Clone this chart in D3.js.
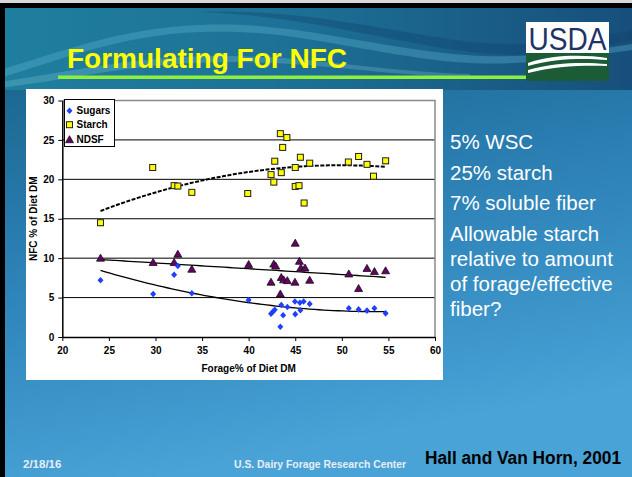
<!DOCTYPE html>
<html><head><meta charset="utf-8">
<script src="https://cdn.jsdelivr.net/npm/d3@7"></script>
<style>
html,body{margin:0;padding:0;background:#fff;}
svg{display:block;}
text{font-family:Arial,"Liberation Sans",Helvetica,sans-serif;}
</style></head>
<body>
<script>
// ---------- data ----------
const xTicks = [20, 25, 30, 35, 40, 45, 50, 55, 60];
const yTicks = [0, 5, 10, 15, 20, 25, 30];
const seriesNames = ["Sugars", "Starch", "NDSF"];

const sugarsX = [24.1, 29.75, 32.0, 32.4, 33.9, 40.0, 43.5, 42.4, 42.6, 42.8, 43.4, 43.7, 44.15, 44.97, 45.5, 45.9, 46.55, 45.0, 45.55, 50.75, 51.8, 52.7, 53.5, 54.7];
const sugarsY = [7.2, 5.45, 7.9, 9.0, 5.55, 4.7, 4.05, 2.95, 3.2, 3.45, 1.3, 2.75, 3.8, 4.5, 4.35, 4.5, 4.2, 2.9, 3.4, 3.65, 3.5, 3.35, 3.65, 3.0];

const starchX = [24.1, 29.7, 32.0, 32.4, 33.9, 39.9, 43.4, 44.1, 43.65, 42.8, 45.55, 46.55, 45.0, 42.4, 43.5, 42.7, 45.0, 45.4, 45.95, 50.7, 51.8, 52.7, 53.4, 54.7];
const starchY = [14.5, 21.5, 19.2, 19.15, 18.35, 18.2, 25.8, 25.3, 24.05, 22.3, 22.8, 22.05, 21.5, 20.6, 20.85, 19.65, 19.1, 19.2, 17.0, 22.2, 22.9, 21.9, 20.4, 22.35];

const ndsfX = [24.1, 29.75, 32.0, 32.4, 33.9, 40.0, 42.7, 42.9, 42.4, 43.4, 43.5, 43.75, 44.15, 44.97, 45.0, 45.45, 45.6, 46.05, 46.55, 50.75, 51.8, 52.7, 53.5, 54.7];
const ndsfY = [10.0, 9.45, 9.45, 10.5, 8.6, 9.2, 9.25, 9.0, 6.95, 5.45, 7.55, 7.25, 7.15, 6.95, 11.9, 9.6, 8.75, 8.75, 7.2, 8.0, 6.15, 8.7, 8.3, 8.4];

const titleText = "Formulating For NFC";
const bullets = [["5% WSC"], ["25% starch"], ["7% soluble fiber"], ["Allowable starch", "relative to amount", "of forage/effective", "fiber?"]];
const xLabel = "Forage% of Diet DM";
const yLabel = "NFC % of Diet DM";
const footDate = "2/18/16";
const footCenter = "U.S. Dairy Forage Research Center";
const citation = "Hall and Van Horn, 2001";

// ---------- helpers: least-squares polynomial trend (like Excel trendlines) ----------
function polyFit(xs, ys, order) {
  const n = order + 1;
  const s = new Array(2 * n - 1).fill(0), t = new Array(n).fill(0);
  xs.forEach((x, i) => {
    for (let k = 0; k < 2 * n - 1; k++) s[k] += Math.pow(x, k);
    for (let k = 0; k < n; k++) t[k] += ys[i] * Math.pow(x, k);
  });
  const A = d3.range(n).map(i => d3.range(n).map(j => s[i + j]).concat([t[i]]));
  for (let i = 0; i < n; i++) for (let j = i + 1; j < n; j++) {
    const f = A[j][i] / A[i][i];
    for (let k = i; k <= n; k++) A[j][k] -= f * A[i][k];
  }
  const c = new Array(n).fill(0);
  for (let i = n - 1; i >= 0; i--) {
    let v = A[i][n];
    for (let k = i + 1; k < n; k++) v -= A[i][k] * c[k];
    c[i] = v / A[i][i];
  }
  return x => c.reduce((acc, ck, k) => acc + ck * Math.pow(x, k), 0);
}

// ---------- svg ----------
const W = 632, H = 477;
const svg = d3.select("body").append("svg").attr("width", W).attr("height", H);
const defs = svg.append("defs");

const bg = defs.append("linearGradient").attr("id", "bg").attr("x1", 0).attr("y1", 0).attr("x2", 0.25).attr("y2", 1);
[[0, "#17557f"], [0.2, "#1d6a93"], [0.5, "#2a7eb2"], [0.8, "#3b93c8"], [1, "#49a3d7"]].forEach(d => bg.append("stop").attr("offset", d[0]).attr("stop-color", d[1]));

const band = defs.append("linearGradient").attr("id", "band").attr("x1", 0).attr("y1", 0).attr("x2", 1).attr("y2", 0);
[[0, "#1f7f9e"], [0.45, "#1d7196"], [1, "#174f7c"]].forEach(d => band.append("stop").attr("offset", d[0]).attr("stop-color", d[1]));

svg.append("rect").attr("width", W).attr("height", H).attr("fill", "url(#bg)");
svg.append("rect").attr("x", 0).attr("y", 8).attr("width", W).attr("height", 82).attr("fill", "url(#band)");

// waves in title band
svg.append("path").attr("d", "M0,78 C60,60 120,35 200,32 C280,29 330,45 420,58 C500,70 560,60 632,50 L632,44 C560,55 500,62 420,50 C330,37 280,22 200,25 C120,28 60,52 0,70 Z")
  .attr("fill", "#5fb8d0").attr("opacity", 0.35);
svg.append("path").attr("d", "M200,12 C300,15 380,40 470,52 C540,60 590,50 632,40 L632,30 C590,40 540,48 470,42 C380,30 300,8 200,12 Z")
  .attr("fill", "#0f3f68").attr("opacity", 0.35);
svg.append("path").attr("d", "M0,82 C80,70 140,55 230,56 C320,57 380,72 470,74 L470,77 C380,76 320,62 230,62 C140,62 80,78 0,88 Z")
  .attr("fill", "#8fd2e0").attr("opacity", 0.25);

// frame
svg.append("rect").attr("x", 0).attr("y", 0).attr("width", W).attr("height", 3).attr("fill", "#d8d8d8");
svg.append("rect").attr("x", 0).attr("y", 3).attr("width", W).attr("height", 5).attr("fill", "#000");
svg.append("rect").attr("x", 0).attr("y", 3).attr("width", 5).attr("height", H).attr("fill", "#000");

// title
svg.append("text").attr("x", 67).attr("y", 68).attr("font-size", 28).attr("font-weight", "bold")
  .attr("fill", "#ffff00").text(titleText);
svg.append("rect").attr("x", 58).attr("y", 75.5).attr("width", 468).attr("height", 3.5).attr("fill", "#8ef03a");

// USDA logo
const logo = svg.append("g");
logo.append("rect").attr("x", 526).attr("y", 22).attr("width", 83).attr("height", 59).attr("fill", "#fff");
logo.append("rect").attr("x", 526).attr("y", 53).attr("width", 83).attr("height", 28).attr("fill", "#1b5b35");
logo.append("text").attr("x", 567.5).attr("y", 50).attr("text-anchor", "middle").attr("font-size", 31)
  .attr("font-family", "'Liberation Serif','DejaVu Serif',serif").attr("fill", "#1f3366")
  .attr("textLength", 78).attr("lengthAdjust", "spacingAndGlyphs").text("USDA");
logo.append("path").attr("d", "M528,63 C555,54 585,55 607,58 L607,60 C585,58 555,58 528,66 Z").attr("fill", "#fff");
logo.append("path").attr("d", "M528,70 C555,62 585,62 607,64 L607,66 C585,65 555,66 528,73 Z").attr("fill", "#fff");

// chart panel
svg.append("rect").attr("x", 26).attr("y", 89).attr("width", 417).attr("height", 291).attr("fill", "#fff");

const x = d3.scaleLinear().domain([20, 60]).range([62.3, 435]);
const y = d3.scaleLinear().domain([0, 30]).range([337, 100.5]);

const g = svg.append("g");
// gridlines
g.selectAll("line.grid").data(yTicks.filter(v => v > 0 && v < 30)).join("line")
  .attr("x1", x(20)).attr("x2", x(60)).attr("y1", d => y(d)).attr("y2", d => y(d))
  .attr("stroke", "#000").attr("stroke-width", 1);
// plot border top / right
g.append("path").attr("d", `M${x(20)},${y(30)} H${x(60)} V${y(0)}`).attr("fill", "none").attr("stroke", "#8a8a8a").attr("stroke-width", 1.5);

const xAxis = d3.axisBottom(x).tickValues(xTicks).tickSize(4).tickSizeOuter(0).tickPadding(6);
const yAxis = d3.axisLeft(y).tickValues(yTicks).tickSize(4).tickSizeOuter(0).tickPadding(4);
const gx = g.append("g").attr("transform", `translate(0,${y(0)})`).call(xAxis);
const gy = g.append("g").attr("transform", `translate(${x(20)},0)`).call(yAxis);
[gx, gy].forEach(a => {
  a.select(".domain").attr("stroke", "#000").attr("stroke-width", 1.5);
  a.selectAll(".tick line").attr("stroke", "#000").attr("stroke-width", 1);
  a.selectAll(".tick text").attr("font-size", 10).attr("font-weight", "bold").attr("fill", "#000")
    .attr("font-family", "Arial,'Liberation Sans',sans-serif");
});

g.append("text").attr("x", (x(20) + x(60)) / 2).attr("y", 372).attr("text-anchor", "middle")
  .attr("font-size", 10).attr("font-weight", "bold").text(xLabel);
g.append("text").attr("transform", `translate(36.5,${(y(0) + y(30)) / 2}) rotate(-90)`).attr("text-anchor", "middle")
  .attr("font-size", 10).attr("font-weight", "bold").text(yLabel);

// trend lines
const line = d3.line().x(d => x(d[0])).y(d => y(d[1]));
function trend(xs, ys, order) {
  const f = polyFit(xs, ys, order);
  const lo = d3.min(xs), hi = d3.max(xs);
  return d3.range(0, 61).map(i => { const xv = lo + (hi - lo) * i / 60; return [xv, f(xv)]; });
}
g.append("path").attr("d", line(trend(starchX, starchY, 2))).attr("fill", "none").attr("stroke", "#000")
  .attr("stroke-width", 2).attr("stroke-dasharray", "4,1.5");
g.append("path").attr("d", line(trend(ndsfX, ndsfY, 1))).attr("fill", "none").attr("stroke", "#000").attr("stroke-width", 1.3);
g.append("path").attr("d", line(trend(sugarsX, sugarsY, 2))).attr("fill", "none").attr("stroke", "#000").attr("stroke-width", 1.3);

// markers
const diamond = "M0,-3.3 L3,0 L0,3.3 L-3,0 Z";
const tri = "M0,-4 L4,3 L-4,3 Z";
function drawSquares(sel, xs, ys) {
  sel.selectAll(null).data(xs).join("rect")
    .attr("x", d => x(d) - 2.5).attr("y", (d, i) => y(ys[i]) - 2.5).attr("width", 6).attr("height", 6)
    .attr("fill", "#9a9a9a").attr("opacity", 0.6);
  sel.selectAll(null).data(xs).join("rect")
    .attr("x", d => x(d) - 3).attr("y", (d, i) => y(ys[i]) - 3).attr("width", 6).attr("height", 6)
    .attr("fill", "#ffff00").attr("stroke", "#222").attr("stroke-width", 1);
}
const ms = g.append("g");
drawSquares(ms.append("g"), starchX, starchY);
ms.append("g").selectAll("path").data(ndsfX).join("path")
  .attr("d", tri).attr("transform", (d, i) => `translate(${x(d)},${y(ndsfY[i])})`)
  .attr("fill", "#660066").attr("stroke", "#111").attr("stroke-width", 0.8);
ms.append("g").selectAll("path").data(sugarsX).join("path")
  .attr("d", diamond).attr("transform", (d, i) => `translate(${x(d)},${y(sugarsY[i])})`)
  .attr("fill", "#1f3fff");

// legend
const lg = g.append("g");
lg.append("rect").attr("x", 64.5).attr("y", 99.5).attr("width", 50).attr("height", 47).attr("fill", "#fff").attr("stroke", "#000").attr("stroke-width", 1);
const ly = [110.7, 124.7, 139.2];
lg.append("path").attr("d", diamond).attr("transform", `translate(69.5,${ly[0]})`).attr("fill", "#1f3fff");
lg.append("rect").attr("x", 66.5).attr("y", ly[1] - 3).attr("width", 6).attr("height", 6).attr("fill", "#ffff00").attr("stroke", "#222");
lg.append("path").attr("d", tri).attr("transform", `translate(69.5,${ly[2] + 0.5})`).attr("fill", "#660066").attr("stroke", "#111").attr("stroke-width", 0.8);
lg.selectAll("text.l").data(seriesNames).join("text").attr("x", 76.5).attr("y", (d, i) => ly[i] + 3.6)
  .attr("font-size", 10).attr("font-weight", "bold").text(d => d);

// right bullets
let by = 149;
const rt = svg.append("g").attr("fill", "#fff").attr("font-size", 20.5);
bullets.forEach(para => {
  para.forEach((ln, li) => {
    rt.append("text").attr("x", 450).attr("y", by).text(ln);
    if (li < para.length - 1) by += 25.3;
  });
  by += 30.5;
});

// footer
svg.append("text").attr("x", 23).attr("y", 468).attr("font-size", 11.5).attr("font-weight", "bold").attr("fill", "#e6eef5").text(footDate);
svg.append("text").attr("x", 234).attr("y", 468).attr("font-size", 10.4).attr("font-weight", "bold").attr("fill", "#e6eef5").text(footCenter);
svg.append("text").attr("x", 425).attr("y", 464).attr("font-size", 17.5).attr("font-weight", "bold").attr("fill", "#000")
  .attr("textLength", 196).attr("lengthAdjust", "spacingAndGlyphs").text(citation);
</script>
</body></html>
